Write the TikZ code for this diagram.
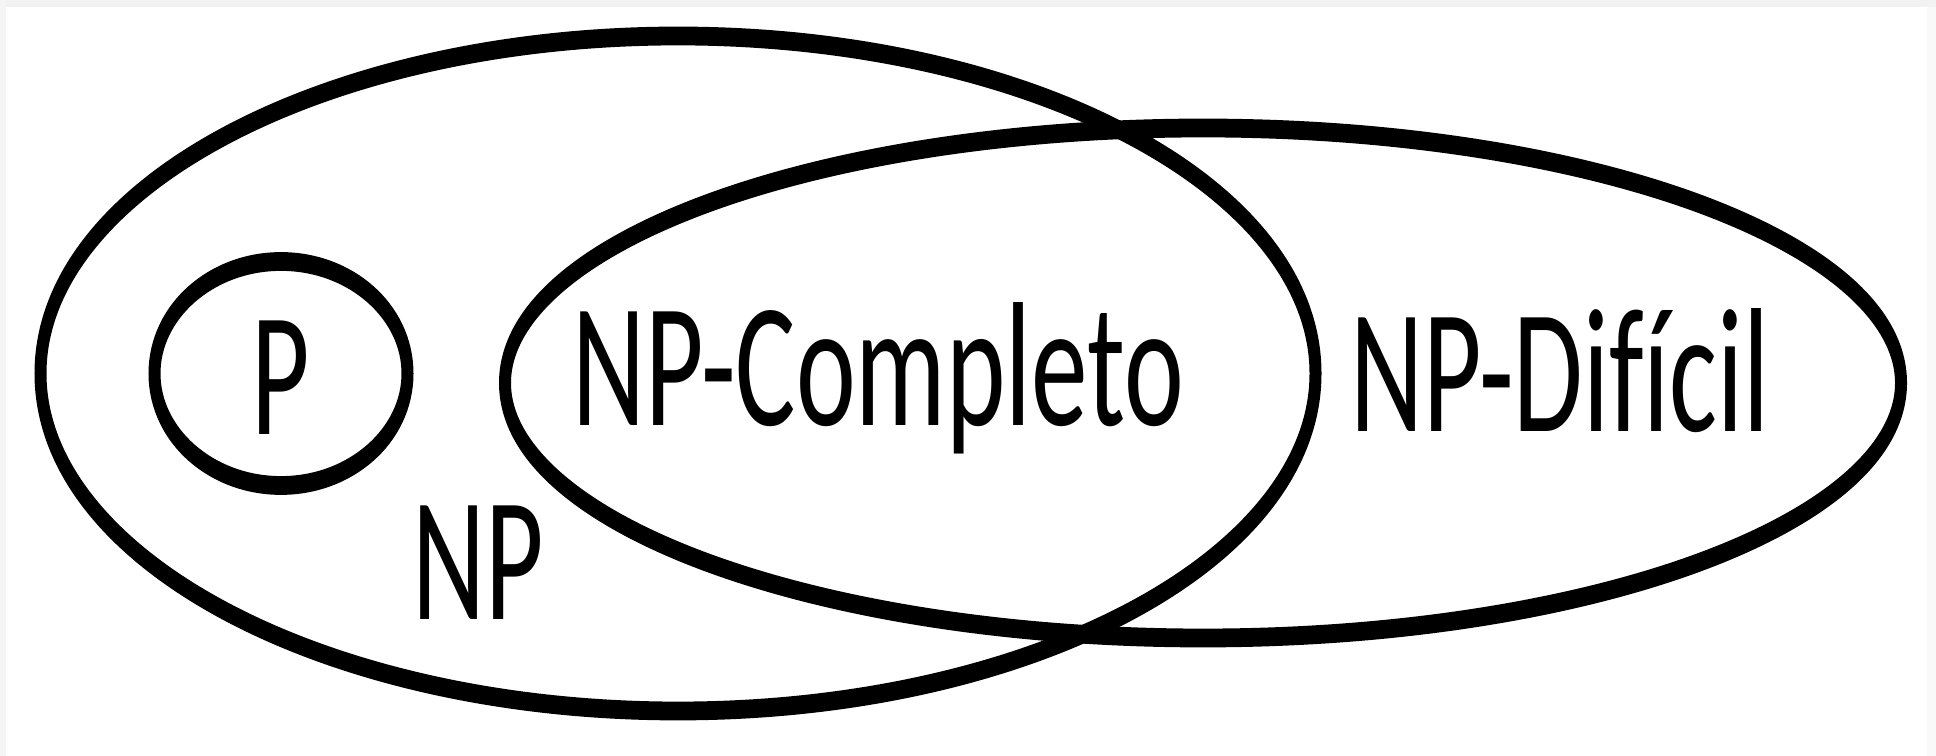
\documentclass[tikz,border=0pt]{standalone}
\usepackage{fontspec}
\newfontfamily\labelfont[Ligatures=NoCommon]{Carlito}
\tikzset{
  set outline/.style={draw=black, line width=3pt},
  set label/.style={font=\labelfont\fontsize{28.3pt}{30pt}\selectfont,
    inner sep=0pt, anchor=base west},
}
\begin{document}
\begin{tikzpicture}[x=0.25pt, y=-0.25pt]
  % page and frame
  \useasboundingbox (0,0) rectangle (1936,756);
  \fill[white] (0,0) rectangle (1936,756);
  \fill[gray!10] (0,0) rectangle (1936,7);
  \fill[gray!8] (0,0) rectangle (6,756);
  \fill[gray!5] (1927,7) rectangle (1936,756);
  % the whole drawing is stretched vertically
  \begin{scope}[y=-0.15974pt, transform canvas={yscale=1.565}]
    % NP
    \draw[set outline] (678,373.5) ellipse [x radius=637.5, y radius=337.5];
    % NP-hard
    \draw[set outline] (1203,383) ellipse [x radius=698, y radius=255];
    % P
    \draw[set outline] (281,373.5) ellipse [x radius=126.5, y radius=112];
    % labels
    \node[set label] (p)   at (251,435)  {P};
    \node[set label] (np)  at (412,620)  {NP};
    \node[set label] (npc) at (572,426)  {NP-Completo};
    \node[set label] (nph) at (1350,432) {NP-Difícil};
  \end{scope}
\end{tikzpicture}
\end{document}
